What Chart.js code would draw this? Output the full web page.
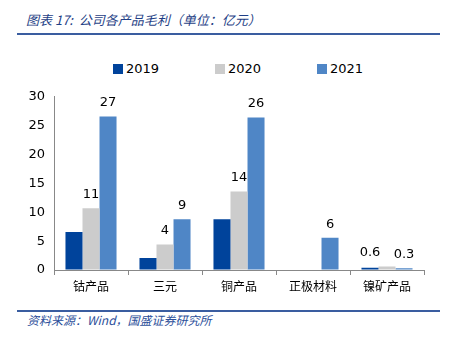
<!DOCTYPE html>
<html>
<head>
<meta charset="utf-8">
<script src="https://cdn.jsdelivr.net/npm/chart.js@4"></script>
<style>
  body { margin: 0; width: 454px; height: 340px; background: #fff; position: relative; overflow: hidden; }
  .judul { position: absolute; left: 26px; top: 10px; font: italic 13px "Noto Sans CJK SC", sans-serif; color: #1f3f86; }
  .garis { position: absolute; left: 17px; width: 423px; height: 2px; background: #3a5da0; }
  .sumber { position: absolute; left: 27px; top: 311px; font: italic 12px "Noto Sans CJK SC", sans-serif; color: #2c4f9a; }
  .legenda { position: absolute; top: 61px; font: 13px "DejaVu Sans", sans-serif; color: #000; }
  .legenda span { display: inline-block; width: 10px; height: 10px; margin-right: 3px; vertical-align: -1px; }
  #wadah { position: absolute; left: 0; top: 80px; width: 454px; height: 212px; }
</style>
</head>
<body>
<div class="judul">图表 17:&nbsp; 公司各产品毛利（单位：亿元）</div>
<div class="garis" style="top:33px"></div>
<div id="legendaWadah"></div>
<div id="wadah"><canvas id="grafik"></canvas></div>
<div class="garis" style="top:310px;height:1.5px"></div>
<div class="sumber">资料来源：Wind，国盛证券研究所</div>
<script>
// data
const kategori = ["钴产品", "三元", "铜产品", "正极材料", "镍矿产品"];
const tahun = ["2019", "2020", "2021"];
const nilai2019 = [6.6, 2.1, 8.8, null, 0.4];
const nilai2020 = [10.7, 4.4, 13.6, null, 0.6];
const nilai2021 = [26.6, 8.8, 26.4, 5.6, 0.3];
const tickY = [0, 5, 10, 15, 20, 25, 30];

const warna = ["#00439b", "#cccccc", "#4f86c6"];

// legenda dibuat manual supaya jaraknya sama dengan gambar asli
const posisiLegenda = [113, 215, 317];
tahun.forEach((t, i) => {
  const d = document.createElement("div");
  d.className = "legenda";
  d.style.left = posisiLegenda[i] + "px";
  d.innerHTML = '<span style="background:' + warna[i] + '"></span>' + t;
  document.getElementById("legendaWadah").appendChild(d);
});

// label angka di atas batang (hanya 2020 dan 2021)
const labelBatang = {
  id: "labelBatang",
  afterDatasetsDraw(chart) {
    const ctx = chart.ctx;
    ctx.save();
    ctx.font = "13px 'DejaVu Sans', sans-serif";
    ctx.fillStyle = "#000";
    ctx.textAlign = "center";
    ctx.textBaseline = "bottom";
    [1, 2].forEach((i) => {
      const meta = chart.getDatasetMeta(i);
      chart.data.datasets[i].data.forEach((v, j) => {
        if (v == null) return;
        const el = meta.data[j];
        const teks = v < 1 ? v.toFixed(1) : String(Math.round(v));
        // label kecil di dataset 2020 digeser ke kiri agar tidak bertabrakan
        const geser = i === 1 && v < 1 ? -el.width : 0;
        ctx.fillText(teks, el.x + geser, el.y - 7);
      });
    });
    ctx.restore();
  },
};

new Chart(document.getElementById("grafik"), {
  type: "bar",
  data: {
    labels: kategori,
    datasets: [
      { label: tahun[0], data: nilai2019, backgroundColor: warna[0] },
      { label: tahun[1], data: nilai2020, backgroundColor: warna[1] },
      { label: tahun[2], data: nilai2021, backgroundColor: warna[2] },
    ],
  },
  options: {
    responsive: true,
    maintainAspectRatio: false,
    animation: false,
    datasets: { bar: { categoryPercentage: 0.69, barPercentage: 1 } },
    layout: { padding: { left: 0, right: 30, top: 15, bottom: 0 } },
    plugins: {
      tooltip: { enabled: false },
      legend: { display: false },
    },
    scales: {
      x: {
        afterFit(s) { s.height = 22; },
        grid: { display: true, drawOnChartArea: false, tickLength: 5, color: "#888" },
        border: { color: "#888" },
        ticks: { color: "#000", font: { family: "'Noto Sans CJK SC', sans-serif", size: 12 }, padding: 4 },
      },
      y: {
        min: 0,
        max: 30,
        afterFit(s) { s.width = 54; },
        afterBuildTicks(s) { s.ticks = tickY.map((v) => ({ value: v })); },
        grid: { display: true, drawOnChartArea: false, tickLength: 0, color: "#888" },
        border: { color: "#888" },
        ticks: { color: "#000", font: { family: "'DejaVu Sans', sans-serif", size: 13 }, padding: 9 },
      },
    },
  },
  plugins: [labelBatang],
});
</script>
</body>
</html>
